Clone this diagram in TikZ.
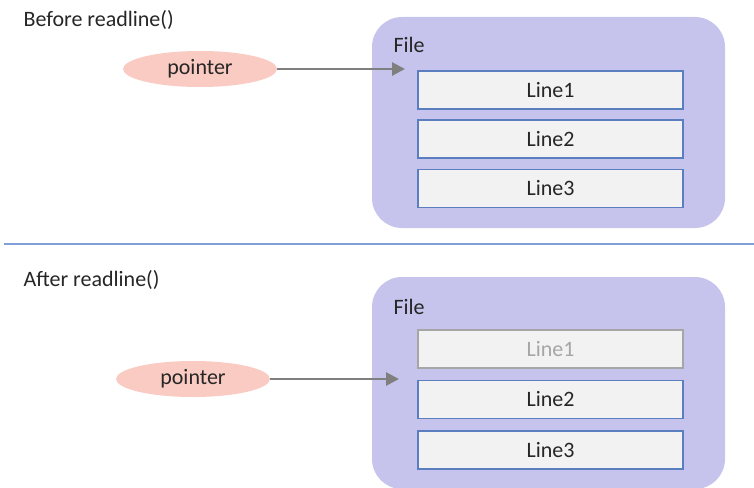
\documentclass[tikz,border=0pt]{standalone}
\usepackage{fontspec}
\setmainfont{Carlito}
\usetikzlibrary{arrows.meta,shapes.geometric}
\definecolor{filebg}{HTML}{C6C4EC}
\definecolor{ptrbg}{HTML}{F9CBC2}
\definecolor{linebg}{HTML}{F2F2F2}
\definecolor{lineedge}{HTML}{5B7EC0}
\definecolor{sepline}{HTML}{7F9FD8}
\definecolor{arrowgray}{HTML}{7F7F7F}
\definecolor{readgray}{HTML}{A6A6A6}

\begin{document}
\begin{tikzpicture}[x=1pt,y=-1pt,
  every node/.style={font=\fontsize{22}{26}\selectfont, text=black!85},
  filebox/.style={fill=filebg, rounded corners=30pt, minimum width=353pt, minimum height=211pt, inner sep=0pt},
  ptrnode/.style={ellipse, fill=ptrbg, minimum width=154pt, minimum height=36pt, inner sep=0pt},
  linebox/.style={draw=lineedge, fill=linebg, line width=1.4pt, minimum width=265pt, minimum height=38pt, inner sep=0pt},
  donebox/.style={linebox, draw=readgray, text=readgray},
  ptrarrow/.style={draw=arrowgray, line width=2.8pt, -{Triangle[length=13pt,width=13pt]}}]
\useasboundingbox (0,0) rectangle (754,487);

% before
\node[anchor=west] (before) at (20,20) {Before readline()};
\node[filebox] (fileA) at (548.5,122.5) {};
\node[anchor=west] (fileAlabel) at (390,45) {File};
\node[linebox] (lineA1) at (550.5,90) {Line1};
\node[linebox] (lineA2) at (550.5,139) {Line2};
\node[linebox] (lineA3) at (550.5,188.5) {Line3};
\node[ptrnode] (ptrA) at (200,69) {pointer};
\coordinate (tipA) at (405,69);
\draw[ptrarrow] (ptrA) -- (tipA);

% separator
\coordinate (sepL) at (4,244);
\coordinate (sepR) at (754,244);
\draw[sepline, line width=1.4pt] (sepL) -- (sepR);

% after
\node[anchor=west] (after) at (20,280) {After readline()};
\node[filebox, minimum height=212pt] (fileB) at (548.5,383) {};
\node[anchor=west] (fileBlabel) at (390,307) {File};
\node[donebox] (lineB1) at (550.5,349) {Line1};
\node[linebox] (lineB2) at (550.5,399.5) {Line2};
\node[linebox] (lineB3) at (550.5,450) {Line3};
\node[ptrnode] (ptrB) at (193,379) {pointer};
\coordinate (tipB) at (399,379);
\draw[ptrarrow] (ptrB) -- (tipB);
\end{tikzpicture}
\end{document}
